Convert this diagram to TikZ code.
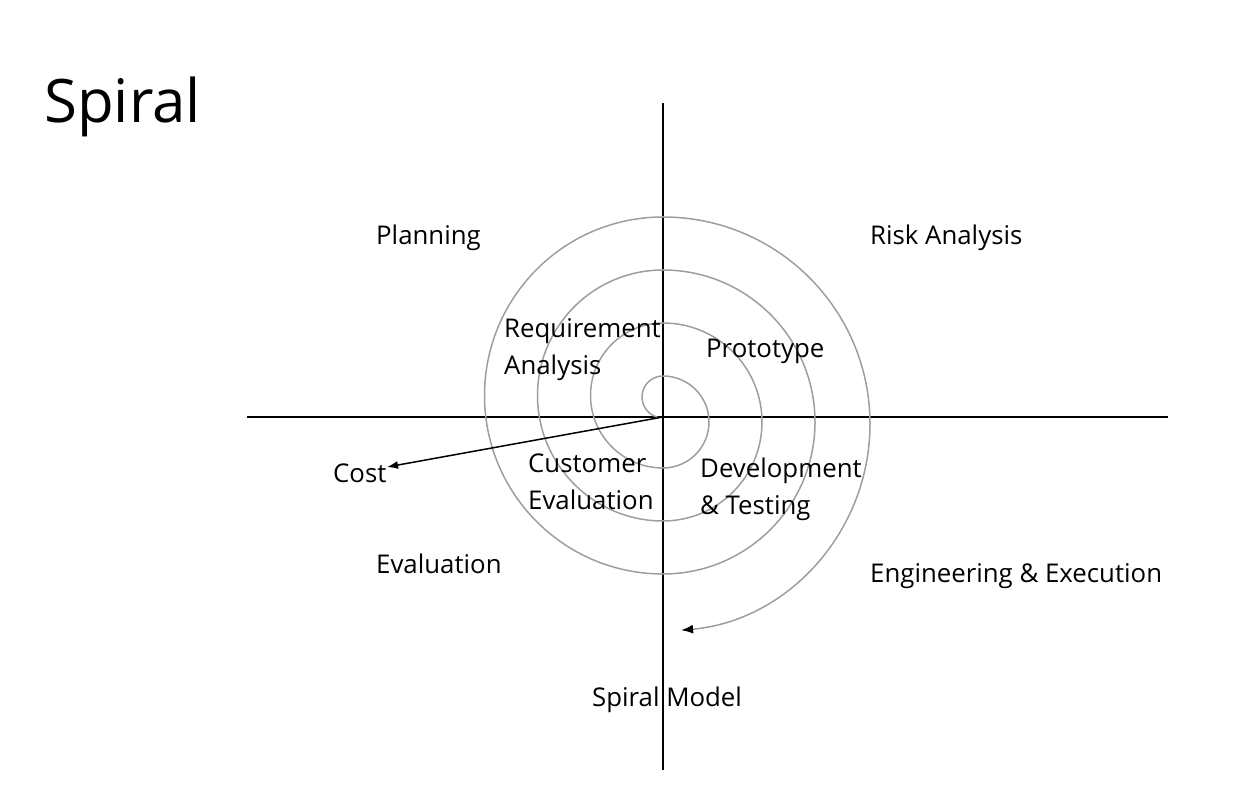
\documentclass[tikz,border=0pt]{standalone}
\usepackage{fontspec}
\setmainfont{Open Sans}
\usetikzlibrary{arrows.meta}
\begin{document}
\begin{tikzpicture}[x=1pt,y=1pt,
  lbl/.style={anchor=base west, inner sep=0pt, font=\fontsize{25.8}{37}\selectfont, align=left},
  titlelbl/.style={anchor=base west, inner sep=0pt, font=\fontsize{60}{70}\selectfont},
  axisline/.style={line width=1.5pt, draw=black},
  spiralline/.style={draw=black!38, line width=1.5pt},
  costarrow/.style={line width=1.5pt, draw=black, -{Latex[length=11pt,width=8pt]}}]
\useasboundingbox (0,0) rectangle (1257,805);
% title
\node[titlelbl] (title) at (44,682) {Spiral};
% axes
\coordinate (axtop) at (663,702);
\coordinate (axbottom) at (663,35);
\coordinate (axleft) at (247,388);
\coordinate (axright) at (1168,388);
\coordinate (O) at (663,388);
\draw[axisline] (axtop) -- (axbottom);
\draw[axisline] (axleft) -- (axright);
% spiral
\coordinate (spstart) at ({663+21*cos(255)},{408+21*sin(255)});
\draw[spiralline, -{Latex[black,length=12pt,width=9pt]}] (spstart)
  arc[start angle=255, end angle=90, radius=21]
  arc[start angle=90, end angle=-90, radius=46]
  arc[start angle=270, end angle=90, radius=72.5]
  arc[start angle=90, end angle=-90, radius=99]
  arc[start angle=270, end angle=90, radius=125.5]
  arc[start angle=90, end angle=-90, radius=152]
  arc[start angle=270, end angle=90, radius=178.5]
  arc[start angle=90, end angle=-85, radius=207];
% cost arrow
\coordinate (costtip) at (387,338);
\draw[costarrow] (O) -- (costtip);
% labels
\node[lbl] (planning) at (376,560) {Planning};
\node[lbl] (risk) at (870,560) {Risk Analysis};
\node[lbl] (req) at (504,430) {Requirement\\Analysis};
\node[lbl] (proto) at (706,447) {Prototype};
\node[lbl] (cost) at (333,322) {Cost};
\node[lbl] (cust) at (528,295) {Customer\\Evaluation};
\node[lbl] (dev) at (700,290) {Development\\\& Testing};
\node[lbl] (eval) at (376,231) {Evaluation};
\node[lbl] (eng) at (870,222) {Engineering \& Execution};
\node[lbl] (model) at (592,98) {Spiral Model};
\end{tikzpicture}
\end{document}
